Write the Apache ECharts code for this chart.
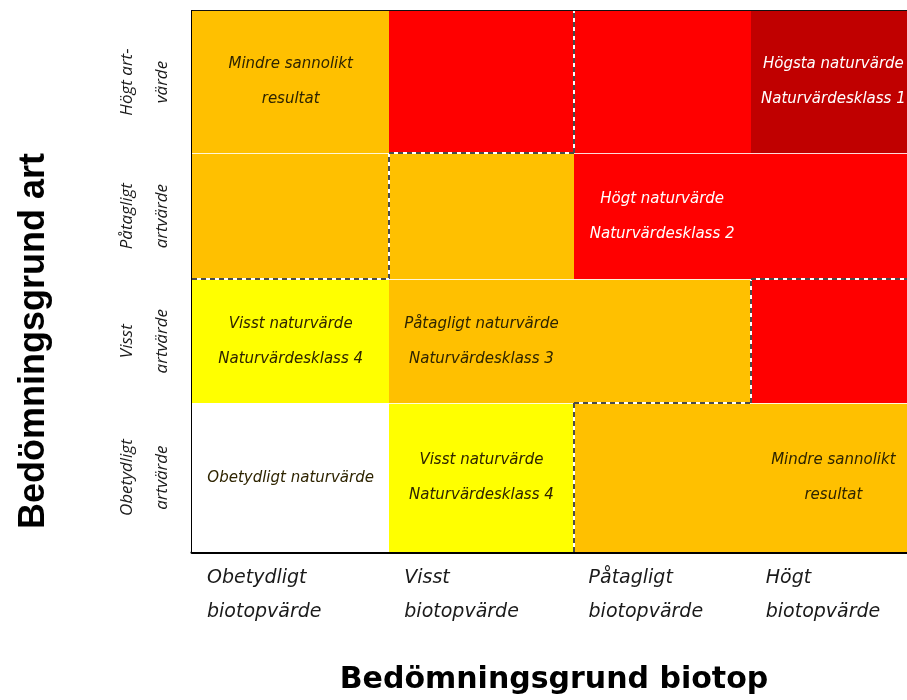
<!DOCTYPE html>
<html>
<head>
<meta charset="utf-8">
<script src="https://cdn.jsdelivr.net/npm/echarts@6/dist/echarts.min.js"></script>
<style>
    html, body { margin: 0; padding: 0; background: #fff; overflow: hidden; }
    #main { width: 922px; height: 700px; }
</style>
</head>
<body>
<div id="main"></div>
<script>
// axis categories
var biotopLabels = ['Obetydligt\nbiotopvärde', 'Visst\nbiotopvärde', 'Påtagligt\nbiotopvärde', 'Högt\nbiotopvärde'];
var artLabels = ['Obetydligt\nartvärde', 'Visst\nartvärde', 'Påtagligt\nartvärde', 'Högt art-\nvärde']; // bottom -> top

// matrix cell boundaries on the value axes (columns / rows are not equal)
var colEdges = [0, 1.09, 2.108, 3.087, 4];
var rowEdges = [0, 1.10, 2.017, 2.949, 4];

// naturvärdesklass per cell, rows bottom -> top, cols left -> right
// 0 = obetydligt, 1..4 = naturvärdesklass
var classGrid = [
    [0, 4, 3, 3],
    [4, 3, 3, 2],
    [3, 3, 2, 2],
    [3, 2, 2, 1]
];

// 1 = "mindre sannolikt resultat" zone (dashed outline)
var zoneGrid = [
    [0, 0, 1, 1],
    [0, 0, 0, 1],
    [1, 0, 0, 0],
    [1, 1, 0, 0]
];

var cellTexts = [
    { col: 0, row: 0, text: 'Obetydligt naturvärde' },
    { col: 1, row: 0, text: 'Visst naturvärde\nNaturvärdesklass 4' },
    { col: 3, row: 0, text: 'Mindre sannolikt\nresultat' },
    { col: 0, row: 1, text: 'Visst naturvärde\nNaturvärdesklass 4' },
    { col: 1, row: 1, text: 'Påtagligt naturvärde\nNaturvärdesklass 3' },
    { col: 2, row: 2, text: 'Högt naturvärde\nNaturvärdesklass 2' },
    { col: 0, row: 3, text: 'Mindre sannolikt\nresultat' },
    { col: 3, row: 3, text: 'Högsta naturvärde\nNaturvärdesklass 1' }
];

var classColors = ['#ffffff', '#c00000', '#ff0000', '#ffc000', '#ffff00'];

function mids(edges) {
    var out = [];
    for (var i = 0; i < edges.length - 1; i++) out.push((edges[i] + edges[i + 1]) / 2);
    return out;
}
var rowMids = mids(rowEdges);
var colStarts = colEdges.slice(0, 4);

function nearest(arr, v) {
    var best = 0;
    arr.forEach(function (a, i) { if (Math.abs(a - v) < Math.abs(arr[best] - v)) best = i; });
    return best;
}

var cellData = [];
classGrid.forEach(function (row, r) {
    row.forEach(function (cls, c) { cellData.push([c, r, cls]); });
});

// dashed outline: cell sides that border a cell outside the zone
var zoneLines = [];
var nR = zoneGrid.length, nC = zoneGrid[0].length;
function outside(r, c) {
    return r >= 0 && r < nR && c >= 0 && c < nC && !zoneGrid[r][c];
}
zoneGrid.forEach(function (row, r) {
    row.forEach(function (z, c) {
        if (!z) return;
        if (outside(r, c - 1)) zoneLines.push([colEdges[c], rowEdges[r], colEdges[c], rowEdges[r + 1]]);
        if (outside(r, c + 1)) zoneLines.push([colEdges[c + 1], rowEdges[r], colEdges[c + 1], rowEdges[r + 1]]);
        if (outside(r - 1, c)) zoneLines.push([colEdges[c], rowEdges[r], colEdges[c + 1], rowEdges[r]]);
        if (outside(r + 1, c)) zoneLines.push([colEdges[c], rowEdges[r + 1], colEdges[c + 1], rowEdges[r + 1]]);
    });
});

var textData = cellTexts.map(function (t, i) { return [t.col, t.row, i]; });

var option = {
    backgroundColor: '#ffffff',
    animation: false,
    grid: {
        left: 192,
        top: 11,
        right: 6,
        bottom: 148,
        show: true,
        borderColor: '#111',
        borderWidth: 2,
        backgroundColor: 'transparent'
    },
    xAxis: {
        type: 'value',
        min: 0,
        max: 4,
        name: 'Bedömningsgrund biotop',
        nameLocation: 'middle',
        nameGap: 113,
        nameTextStyle: { fontFamily: 'DejaVu Sans', fontWeight: 'bold', fontSize: 30, color: '#000' },
        axisLine: { show: true, lineStyle: { color: '#000', width: 3 } },
        axisTick: { show: false },
        splitLine: { show: false },
        axisLabel: {
            customValues: colStarts,
            formatter: function (v) { return biotopLabels[nearest(colStarts, v)]; },
            align: 'left',
            padding: [0, 0, 0, 15],
            margin: 9,
            lineHeight: 34,
            fontFamily: 'DejaVu Sans',
            fontStyle: 'italic',
            fontSize: 19,
            color: '#1a1a1a'
        }
    },
    yAxis: {
        type: 'value',
        min: 0,
        max: 4,
        axisLine: { show: true, lineStyle: { color: '#000', width: 2 } },
        axisTick: { show: false },
        splitLine: { show: false },
        axisLabel: {
            customValues: rowMids,
            formatter: function (v) { return artLabels[nearest(rowMids, v)]; },
            rotate: 90,
            margin: 12,
            lineHeight: 35,
            fontFamily: 'Open Sans',
            fontStyle: 'italic',
            fontSize: 17,
            color: '#1a1a1a'
        }
    },
    graphic: [{
        type: 'text',
        x: 34,
        y: 341,
        rotation: Math.PI / 2,
        style: {
            text: 'Bedömningsgrund art',
            font: 'bold 36px "Liberation Sans"',
            fill: '#000',
            align: 'center',
            verticalAlign: 'middle'
        }
    }],
    series: [
        {
            type: 'custom',
            name: 'cells',
            data: cellData,
            z: 1,
            renderItem: function (params, api) {
                var c = api.value(0), r = api.value(1), cls = api.value(2);
                var p0 = api.coord([colEdges[c], rowEdges[r + 1]]).map(Math.round);
                var p1 = api.coord([colEdges[c + 1], rowEdges[r]]).map(Math.round);
                var children = [{
                    type: 'rect',
                    shape: { x: p0[0], y: p0[1], width: p1[0] - p0[0], height: p1[1] - p0[1] },
                    style: { fill: classColors[cls] }
                }];
                if (r < classGrid.length - 1) {
                    children.push({
                        type: 'line',
                        shape: { x1: p0[0], y1: p0[1] + 0.5, x2: p1[0], y2: p0[1] + 0.5 },
                        style: { stroke: 'rgba(255,255,255,0.85)', lineWidth: 1 }
                    });
                }
                return { type: 'group', children: children };
            }
        },
        {
            type: 'custom',
            name: 'zone',
            data: zoneLines,
            z: 2,
            renderItem: function (params, api) {
                var a = api.coord([api.value(0), api.value(1)]).map(Math.round);
                var b = api.coord([api.value(2), api.value(3)]).map(Math.round);
                var shape = { x1: a[0], y1: a[1], x2: b[0], y2: b[1] };
                return {
                    type: 'group',
                    children: [
                        { type: 'line', shape: shape, style: { stroke: '#fff', lineWidth: 2 } },
                        { type: 'line', shape: shape, style: { stroke: '#111', lineWidth: 1.5, lineDash: [5, 4] } }
                    ]
                };
            }
        },
        {
            type: 'custom',
            name: 'texts',
            data: textData,
            z: 3,
            renderItem: function (params, api) {
                var c = api.value(0), r = api.value(1), t = cellTexts[api.value(2)];
                var p = api.coord([(colEdges[c] + colEdges[c + 1]) / 2, (rowEdges[r] + rowEdges[r + 1]) / 2]);
                var cls = classGrid[r][c];
                return {
                    type: 'text',
                    x: p[0],
                    y: p[1],
                    style: {
                        text: t.text,
                        fill: (cls === 1 || cls === 2) ? '#ffffff' : '#2e2400',
                        font: 'italic 15px "DejaVu Sans"',
                        lineHeight: 35,
                        align: 'center',
                        verticalAlign: 'middle'
                    }
                };
            }
        }
    ]
};

var chart = echarts.init(document.getElementById('main'));
chart.setOption(option);
</script>
</body>
</html>
